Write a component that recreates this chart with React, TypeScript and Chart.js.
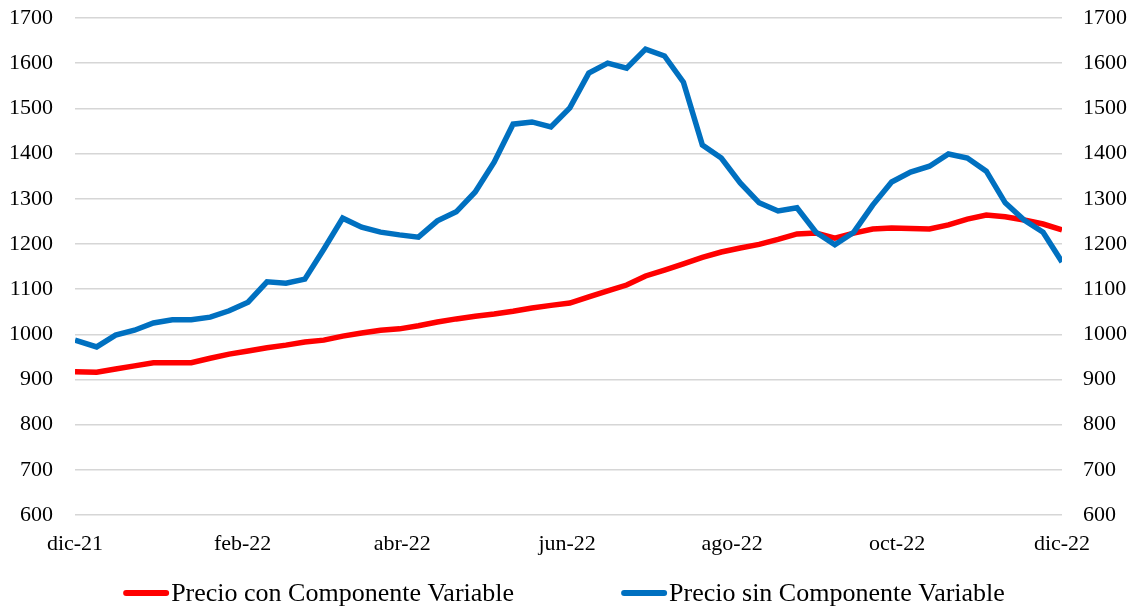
import React, { useEffect, useRef } from "react";
import { Chart, registerables } from "chart.js";

Chart.register(...registerables);

// ---- Data ----
const seriesNames = ["Precio con Componente Variable", "Precio sin Componente Variable"];

// Day offsets of each weekly observation, counted from 1 Dec 2021
const dayOffsets = [0, ...Array.from({ length: 52 }, (_, i) => 8 + 7 * i)];

const conComponente = [
  917, 916, 923, 930, 937, 937, 937, 947, 956, 963, 970, 976, 983, 987, 996, 1003, 1009,
  1012, 1019, 1027, 1034, 1040, 1045, 1051, 1058, 1064, 1069, 1083, 1096, 1109, 1129, 1142,
  1156, 1170, 1182, 1191, 1199, 1210, 1222, 1224, 1213, 1224, 1233, 1235, 1234, 1233, 1242,
  1255, 1264, 1260, 1253, 1244, 1231,
];

const sinComponente = [
  987, 972, 998, 1009, 1025, 1032, 1032, 1038, 1052, 1071, 1116, 1113, 1122, 1188, 1257, 1237,
  1226, 1220, 1215, 1251, 1271, 1315, 1381, 1465, 1470, 1459, 1501, 1578, 1600, 1589, 1631,
  1616, 1558, 1419, 1390, 1335, 1291, 1273, 1280, 1226, 1198, 1226, 1286, 1337, 1359, 1372,
  1399, 1390, 1361, 1291, 1253, 1226, 1160,
];

const tickDays = [0, 62, 121, 182, 243, 304, 365];
const tickLabels = ["dic-21", "feb-22", "abr-22", "jun-22", "ago-22", "oct-22", "dic-22"];

const yMin = 600;
const yMax = 1700;
const yStep = 100;

const seriesColors = ["#ff0000", "#0070c0"];

const FONT = "'Liberation Serif', 'Times New Roman', serif";

const legendPlugin = {
  id: "customLegend",
  afterDraw(chart: any) {
    const ctx = chart.ctx as CanvasRenderingContext2D;
    ctx.save();
    ctx.font = `26px ${FONT}`;
    const lineY = 593;
    const textY = 601;
    const lineLen = 46;
    const gapText = 2;
    const gapItems = 107;
    const widths = chart.data.datasets.map(
      (ds: any) => lineLen + gapText + ctx.measureText(ds.label).width
    );
    const total = widths.reduce((a: number, b: number) => a + b, 0) + gapItems * (widths.length - 1);
    let x = chart.width / 2 - 5 - total / 2;
    chart.data.datasets.forEach((ds: any, i: number) => {
      ctx.strokeStyle = ds.borderColor;
      ctx.lineWidth = 6;
      ctx.lineCap = "round";
      ctx.beginPath();
      ctx.moveTo(x + 3, lineY);
      ctx.lineTo(x + lineLen - 3, lineY);
      ctx.stroke();
      ctx.fillStyle = "#000";
      ctx.textBaseline = "alphabetic";
      ctx.textAlign = "left";
      ctx.fillText(ds.label, x + lineLen + gapText, textY);
      x += widths[i] + gapItems;
    });
    ctx.restore();
  },
};

export default function App() {
  const canvasRef = useRef<HTMLCanvasElement | null>(null);

  useEffect(() => {
    document.body.style.margin = "0";
    const canvas = canvasRef.current;
    if (!canvas) return;

    const toPoints = (vals: number[]) => vals.map((v, i) => ({ x: dayOffsets[i], y: v }));

    const yTickCommon = {
      font: { family: FONT, size: 22 },
      color: "#000",
      padding: 22,
      stepSize: yStep,
      callback: (value: any) => String(value),
    };

    const fitY = (w: number) => (scale: any) => {
      scale.width = w;
      scale.paddingTop = 0;
      scale.paddingBottom = 0;
    };

    const chart = new Chart(canvas, {
      type: "line",
      data: {
        datasets: [
          {
            label: seriesNames[0],
            data: toPoints(conComponente),
            borderColor: seriesColors[0],
            backgroundColor: seriesColors[0],
            borderWidth: 5.5,
            pointRadius: 0,
            tension: 0,
            yAxisID: "y",
            order: 1,
          },
          {
            label: seriesNames[1],
            data: toPoints(sinComponente),
            borderColor: seriesColors[1],
            backgroundColor: seriesColors[1],
            borderWidth: 5.5,
            pointRadius: 0,
            tension: 0,
            yAxisID: "y",
            order: 0,
          },
        ],
      },
      options: {
        responsive: false,
        animation: false,
        devicePixelRatio: 1,
        layout: { padding: { top: 18, left: 0, right: 0, bottom: 0 } },
        plugins: {
          legend: { display: false },
          tooltip: { enabled: false },
        },
        scales: {
          x: {
            type: "linear",
            min: tickDays[0],
            max: tickDays[tickDays.length - 1],
            grid: { display: false },
            border: { display: false },
            afterBuildTicks: (scale: any) => {
              scale.ticks = tickDays.map((d) => ({ value: d }));
            },
            ticks: {
              font: { family: FONT, size: 22 },
              color: "#000",
              padding: 8,
              maxRotation: 0,
              autoSkip: false,
              callback: (value: any) => {
                const idx = tickDays.indexOf(Number(value));
                return idx >= 0 ? tickLabels[idx] : "";
              },
            },
            afterFit: (scale: any) => {
              scale.height = 94;
            },
          },
          y: {
            position: "left",
            min: yMin,
            max: yMax,
            grid: { color: "#d6d6d6", lineWidth: 1.5, drawTicks: false },
            border: { display: false },
            ticks: yTickCommon,
            afterFit: fitY(75),
          },
          y2: {
            position: "right",
            min: yMin,
            max: yMax,
            grid: { display: false, drawTicks: false },
            border: { display: false },
            ticks: { ...yTickCommon, padding: 21 },
            afterFit: fitY(76),
          },
        },
      },
      plugins: [legendPlugin],
    });

    return () => {
      chart.destroy();
    };
  }, []);

  return (
    <div style={{ width: 1138, height: 609, background: "#fff" }}>
      <canvas ref={canvasRef} width={1138} height={609} style={{ display: "block" }} />
    </div>
  );
}
